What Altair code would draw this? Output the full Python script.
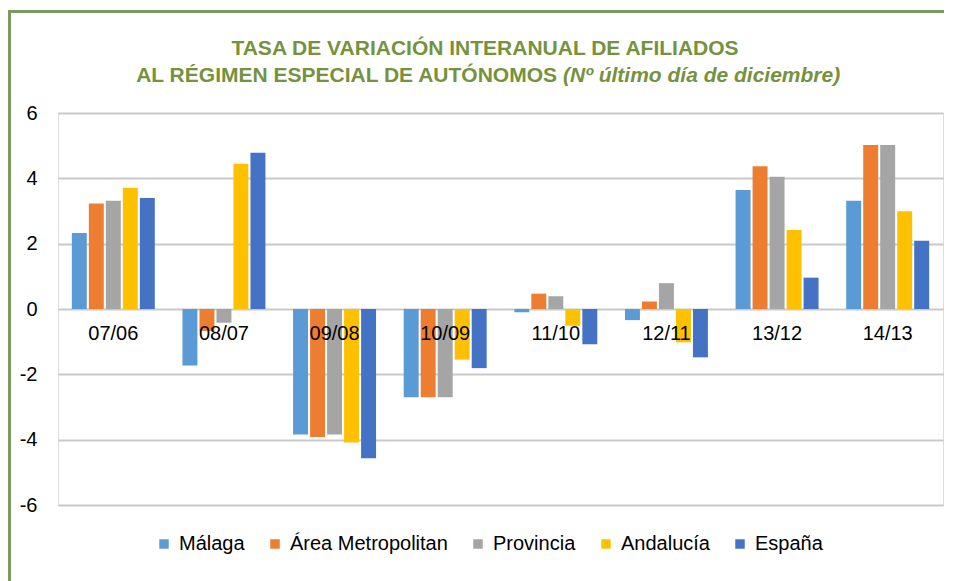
import altair as alt
import pandas as pd

periodos = ["07/06", "08/07", "09/08", "10/09", "11/10", "12/11", "13/12", "14/13"]
series = ["Málaga", "Área Metropolitan", "Provincia", "Andalucía", "España"]
colores = ["#5B9BD5", "#ED7D31", "#A5A5A5", "#FFC000", "#4472C4"]

malaga = [2.33, -1.73, -3.84, -2.70, -0.10, -0.34, 3.64, 3.31]
area_metropolitana = [3.23, -0.67, -3.92, -2.70, 0.47, 0.23, 4.37, 5.02]
provincia = [3.31, -0.42, -3.84, -2.70, 0.39, 0.79, 4.05, 5.02]
andalucia = [3.71, 4.45, -4.09, -1.55, -0.51, -1.02, 2.42, 2.99]
espana = [3.40, 4.78, -4.57, -1.81, -1.08, -1.48, 0.96, 2.09]

y_ticks = [-6, -4, -2, 0, 2, 4, 6]

titulo_1 = "TASA DE VARIACIÓN INTERANUAL DE AFILIADOS"
titulo_2a = "AL RÉGIMEN ESPECIAL DE AUTÓNOMOS"
titulo_2b = "(Nº último día de diciembre)"

VERDE = "#76923C"
MARCO = "#7B9A5D"
FONT = "Liberation Sans"

rows = []
for s, vals in zip(series, [malaga, area_metropolitana, provincia, andalucia, espana]):
    for p, v in zip(periodos, vals):
        rows.append({"periodo": p, "serie": s, "valor": v})
df = pd.DataFrame(rows)
one = pd.DataFrame({"k": [0]})

x_enc = alt.X("periodo:N", sort=periodos, axis=None,
              scale=alt.Scale(paddingInner=0.25, paddingOuter=0.125))

bars = alt.Chart(df).mark_bar().encode(
    x=x_enc,
    xOffset=alt.XOffset("serie:N", sort=series, scale=alt.Scale(paddingInner=0.12)),
    y=alt.Y("valor:Q", scale=alt.Scale(domain=[-6, 6], nice=False),
            axis=alt.Axis(values=y_ticks, labelExpr="'' + datum.value", title=None,
                          grid=True, gridColor="#c9c9c9", gridWidth=2,
                          domain=False, ticks=False, tickSize=0, labelPadding=21,
                          labelFontSize=20, labelColor="#000000", labelFont=FONT)),
    color=alt.Color("serie:N", sort=series,
                    scale=alt.Scale(domain=series, range=colores),
                    legend=alt.Legend(title=None, orient="none", legendX=96, legendY=421,
                                      direction="horizontal", columns=5,
                                      symbolType="square", symbolSize=90,
                                      symbolStrokeWidth=0, symbolOpacity=1,
                                      labelFontSize=20, labelColor="#000000", labelFont=FONT,
                                      columnPadding=20, labelOffset=5)),
)

labels = alt.Chart(pd.DataFrame({"periodo": periodos, "cero": [0] * len(periodos)})).mark_text(
    fontSize=20, dy=25, baseline="middle", color="#000000", font=FONT
).encode(x=x_enc, y=alt.Y("cero:Q"), text="periodo:N")

t1 = alt.Chart(one).mark_text(
    text=titulo_1, align="center", baseline="alphabetic", fontSize=21,
    fontWeight="bold", color=VERDE, font=FONT
).encode(x=alt.value(427), y=alt.value(-58))

t2a = alt.Chart(one).mark_text(
    text=titulo_2a, align="right", baseline="alphabetic", fontSize=21,
    fontWeight="bold", color=VERDE, font=FONT
).encode(x=alt.value(499), y=alt.value(-31))

t2b = alt.Chart(one).mark_text(
    text=titulo_2b, align="left", baseline="alphabetic", fontSize=21,
    fontWeight="bold", fontStyle="italic", color=VERDE, font=FONT
).encode(x=alt.value(505), y=alt.value(-31))

frame_top = alt.Chart(one).mark_rule(color=MARCO, strokeWidth=3).encode(
    x=alt.value(-50), x2=alt.value(886), y=alt.value(-101.5))
frame_left = alt.Chart(one).mark_rule(color=MARCO, strokeWidth=3).encode(
    x=alt.value(-48.5), y=alt.value(-103), y2=alt.value(480))

chart = alt.layer(frame_top, frame_left, bars, labels, t1, t2a, t2b).properties(
    width=885, height=392,
    autosize=alt.AutoSizeParams(type="none"),
    padding={"left": 50, "top": 105, "right": 5, "bottom": 76},
).configure_view(stroke=None).configure(font=FONT)

chart.save("out.html", embed_options={"renderer": "svg", "actions": False})
